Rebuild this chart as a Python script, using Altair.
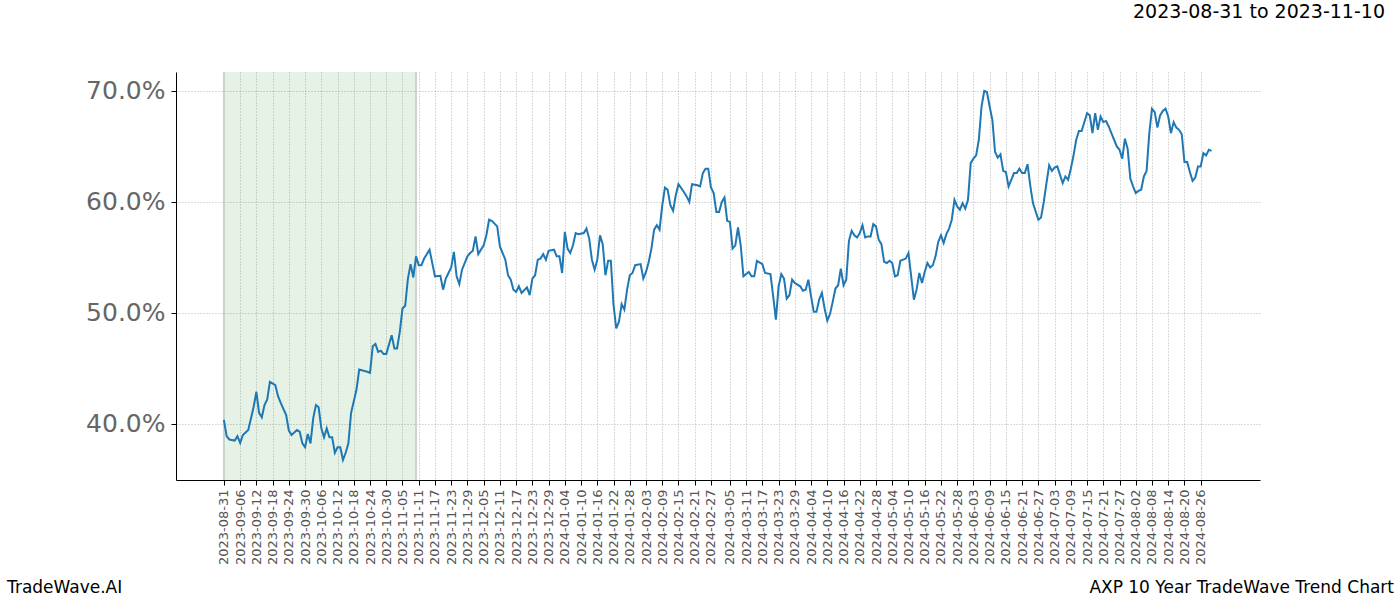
import altair as alt
import pandas as pd

# ---------------- data ----------------
start_date = "2023-08-31"

day_offset = [
    0, 1, 2, 4, 5, 6, 7, 9, 11, 12, 13, 14, 15, 16, 17, 19, 20, 21, 23, 24,
    25, 27, 28, 29, 30, 31, 32, 33, 34, 35, 36, 37, 38, 39, 40, 41, 42, 43, 44, 45,
    46, 47, 49, 50, 53, 54, 55, 56, 57, 58, 59, 60, 62, 63, 64, 65, 66, 67, 68, 69,
    70, 71, 72, 73, 74, 76, 78, 80, 81, 82, 83, 84, 85, 86, 87, 88, 90, 91, 92, 93,
    94, 96, 97, 98, 99, 101, 102, 104, 105, 106, 107, 108, 109, 110, 112, 113, 114, 115, 116, 117,
    118, 119, 120, 122, 123, 124, 125, 126, 127, 128, 129, 130, 131, 133, 134, 135, 136, 137, 138, 139,
    140, 141, 142, 143, 144, 145, 146, 147, 148, 149, 150, 151, 152, 154, 155, 156, 157, 158, 159, 160,
    161, 162, 163, 164, 165, 166, 167, 168, 170, 171, 172, 173, 175, 176, 177, 178, 179, 180, 181, 182,
    183, 184, 185, 186, 187, 188, 189, 190, 191, 192, 194, 195, 196, 197, 199, 200, 202, 203, 204, 205,
    206, 207, 208, 209, 210, 211, 213, 214, 215, 216, 217, 218, 219, 220, 221, 222, 223, 224, 225, 226,
    227, 228, 229, 230, 231, 232, 233, 234, 235, 236, 237, 238, 239, 240, 241, 242, 243, 244, 245, 246,
    247, 248, 249, 250, 252, 253, 254, 255, 256, 257, 258, 259, 260, 261, 262, 263, 264, 265, 266, 267,
    268, 269, 270, 271, 272, 273, 274, 275, 276, 277, 278, 279, 280, 281, 282, 283, 284, 285, 286, 287,
    288, 289, 290, 291, 292, 293, 294, 295, 296, 297, 298, 299, 301, 302, 303, 304, 305, 306, 307, 308,
    310, 311, 312, 313, 314, 315, 316, 317, 319, 320, 321, 322, 323, 324, 325, 326, 327, 329, 330, 331,
    332, 333, 334, 335, 336, 337, 338, 339, 340, 341, 342, 343, 344, 345, 346, 347, 348, 349, 350, 351,
    352, 353, 354, 355, 356, 357, 358, 359, 360, 361, 362, 363, 364, 365,
]

trend_pct = [
    40.36, 38.9, 38.6, 38.5, 38.9, 38.3, 39.0, 39.45, 41.55, 42.9, 41.0, 40.6, 41.7, 42.2, 43.8, 43.5, 42.5, 41.9, 40.8, 39.4,
    39.0, 39.45, 39.3, 38.25, 37.9, 39.1, 38.25, 40.5, 41.7, 41.5, 39.6, 38.8, 39.6, 38.8, 38.8, 37.4, 37.9, 37.9, 36.75, 37.4,
    38.25, 41.0, 43.1, 44.9, 44.7, 44.6, 47.0, 47.2, 46.5, 46.6, 46.3, 46.3, 48.0, 46.8, 46.8, 48.3, 50.4, 50.65, 53.1, 54.4,
    53.2, 55.1, 54.3, 54.3, 54.9, 55.7, 53.3, 53.35, 52.1, 53.1, 53.6, 54.1, 55.5, 53.3, 52.6, 53.9, 55.1, 55.4, 55.6, 56.9,
    55.3, 56.1, 57.0, 58.4, 58.3, 57.8, 56.0, 54.8, 53.4, 53.0, 52.1, 51.9, 52.4, 51.8, 52.3, 51.6, 53.1, 53.4, 54.8, 54.9,
    55.3, 54.8, 55.6, 55.7, 55.1, 55.1, 53.6, 57.3, 55.8, 55.4, 56.1, 57.2, 57.1, 57.2, 57.6, 56.7, 54.8, 53.9, 54.8, 57.0,
    56.2, 53.4, 54.7, 54.7, 50.7, 48.6, 49.2, 50.8, 50.3, 52.1, 53.4, 53.6, 54.3, 54.4, 53.1, 53.7, 54.6, 55.8, 57.5, 57.9,
    57.5, 59.7, 61.3, 61.1, 59.7, 59.2, 60.6, 61.6, 60.9, 60.5, 60.0, 61.6, 61.5, 61.4, 62.6, 63.0, 63.0, 61.3, 60.8, 59.1,
    59.1, 60.0, 60.4, 58.3, 58.2, 55.8, 56.1, 57.7, 56.1, 53.3, 53.7, 53.3, 53.3, 54.7, 54.4, 53.6, 53.5, 51.5, 49.4, 52.4,
    53.5, 53.1, 51.3, 51.6, 53.0, 52.7, 52.4, 52.0, 52.1, 53.0, 51.5, 50.1, 50.1, 51.2, 51.8, 50.4, 49.3, 49.9, 51.0, 52.2,
    52.5, 54.0, 52.5, 53.0, 56.5, 57.4, 57.0, 56.8, 57.2, 57.9, 56.8, 56.9, 56.9, 58.0, 57.8, 56.6, 56.2, 54.6, 54.5, 54.7,
    54.5, 53.3, 53.4, 54.7, 54.9, 55.4, 53.3, 51.2, 52.1, 53.6, 52.7, 53.7, 54.5, 54.1, 54.3, 55.1, 56.4, 57.0, 56.3, 57.1,
    57.6, 58.4, 60.2, 59.6, 59.3, 59.9, 59.4, 60.2, 63.5, 63.9, 64.2, 65.6, 68.6, 70.0, 69.9, 68.6, 67.4, 64.5, 64.0, 64.3,
    62.8, 62.7, 61.4, 62.0, 62.6, 62.6, 63.0, 62.6, 62.6, 63.4, 61.5, 59.9, 58.4, 58.6, 60.0, 61.7, 63.3, 62.8, 63.1, 63.2,
    61.7, 62.3, 62.0, 63.0, 64.2, 65.6, 66.4, 66.4, 68.0, 67.8, 66.2, 68.0, 66.5, 67.7, 67.2, 67.3, 66.8, 65.6, 65.0, 64.7,
    63.9, 65.7, 64.8, 62.1, 61.4, 60.8, 61.0, 61.1, 62.3, 62.8, 66.2, 68.4, 68.1, 66.7, 67.8, 68.2, 68.4, 67.7, 66.2, 67.2,
    66.7, 66.5, 66.1, 63.6, 63.6, 62.7, 61.9, 62.2, 63.2, 63.2, 64.4, 64.2, 64.7, 64.6,
]

tick_dates = [
    "2023-08-31", "2023-09-06", "2023-09-12", "2023-09-18", "2023-09-24", "2023-09-30",
    "2023-10-06", "2023-10-12", "2023-10-18", "2023-10-24", "2023-10-30", "2023-11-05",
    "2023-11-11", "2023-11-17", "2023-11-23", "2023-11-29", "2023-12-05", "2023-12-11",
    "2023-12-17", "2023-12-23", "2023-12-29", "2024-01-04", "2024-01-10", "2024-01-16",
    "2024-01-22", "2024-01-28", "2024-02-03", "2024-02-09", "2024-02-15", "2024-02-21",
    "2024-02-27", "2024-03-05", "2024-03-11", "2024-03-17", "2024-03-23", "2024-03-29",
    "2024-04-04", "2024-04-10", "2024-04-16", "2024-04-22", "2024-04-28", "2024-05-04",
    "2024-05-10", "2024-05-16", "2024-05-22", "2024-05-28", "2024-06-03", "2024-06-09",
    "2024-06-15", "2024-06-21", "2024-06-27", "2024-07-03", "2024-07-09", "2024-07-15",
    "2024-07-21", "2024-07-27", "2024-08-02", "2024-08-08", "2024-08-14", "2024-08-20",
    "2024-08-26",
]

y_ticks = [40, 50, 60, 70]
span_start = "2023-08-31"
span_end = "2023-11-10"
x_domain = ["2023-08-13T07:00:00", "2024-09-16T22:00:00"]
y_domain = [34.95, 71.71]

title_text = "2023-08-31 to 2023-11-10"
left_footer = "TradeWave.AI"
right_footer = "AXP 10 Year TradeWave Trend Chart"


def ms(s):
    return int(pd.Timestamp(s, tz="UTC").value // 10**6)


DAY = 86400000
base = ms(start_date)
line_df = pd.DataFrame({"t": [base + d * DAY for d in day_offset], "v": trend_pct})
span_df = pd.DataFrame({"t0": [ms(span_start)], "t1": [ms(span_end)]})
edge_df = pd.DataFrame({"t": [ms(span_start), ms(span_end)]})

FONT = "DejaVu Sans"
W, H = 1084, 408

x_scale = alt.Scale(type="utc", domain=[ms(x_domain[0]), ms(x_domain[1])], nice=False)
y_scale = alt.Scale(domain=y_domain, nice=False, zero=False)

x_axis = alt.Axis(
    values=[ms(d) for d in tick_dates],
    labelExpr="utcFormat(datum.value, '%Y-%m-%d')",
    labelAngle=270,
    labelFontSize=13,
    labelColor="#555555",
    labelPadding=4,
    labelOverlap=False,
    labelFont=FONT,
    tickSize=5,
    tickColor="black",
    domainColor="black",
    domainWidth=1,
    grid=True,
    gridColor="#9a9a9a",
    gridDash=[1, 2],
    gridWidth=0.7,
    title=None,
)

y_axis = alt.Axis(
    values=y_ticks,
    labelExpr="format(datum.value, '.1f') + '%'",
    labelFontSize=25,
    labelColor="#666666",
    labelPadding=6,
    labelFont=FONT,
    tickSize=5,
    tickColor="black",
    domainColor="black",
    domainWidth=1,
    grid=True,
    gridColor="#9a9a9a",
    gridDash=[1, 2],
    gridWidth=0.7,
    title=None,
)

span = alt.Chart(span_df).mark_rect(
    fill="green", fillOpacity=0.1, strokeWidth=0
).encode(
    x=alt.X("t0:T", scale=x_scale, axis=x_axis),
    x2="t1:T",
)

edges = alt.Chart(edge_df).mark_rule(color="#cbd3cb", strokeWidth=2).encode(
    x=alt.X("t:T", scale=x_scale, axis=x_axis),
)

line = alt.Chart(line_df).mark_line(color="#1f77b4", strokeWidth=2).encode(
    x=alt.X("t:T", scale=x_scale, axis=x_axis),
    y=alt.Y("v:Q", scale=y_scale, axis=y_axis),
)

title = alt.Chart(pd.DataFrame({"s": [title_text]})).mark_text(
    align="right", baseline="middle", fontSize=19, font=FONT, color="black"
).encode(x=alt.value(1209), y=alt.value(-60), text="s:N")

foot_left = alt.Chart(pd.DataFrame({"s": [left_footer]})).mark_text(
    align="left", baseline="middle", fontSize=17, font=FONT, color="black"
).encode(x=alt.value(-169), y=alt.value(516), text="s:N")

foot_right = alt.Chart(pd.DataFrame({"s": [right_footer]})).mark_text(
    align="right", baseline="middle", fontSize=17, font=FONT, color="black"
).encode(x=alt.value(1218), y=alt.value(516), text="s:N")

chart = (
    alt.layer(span, edges, line, title, foot_left, foot_right)
    .properties(
        width=W,
        height=H,
        autosize=alt.AutoSizeParams(type="none"),
        padding={"left": 176, "top": 72, "right": 140, "bottom": 120},
        background="white",
    )
    .configure(font=FONT)
    .configure_view(strokeWidth=0, stroke="transparent")
)

chart.save("out.html", embed_options={"renderer": "svg", "actions": False})
